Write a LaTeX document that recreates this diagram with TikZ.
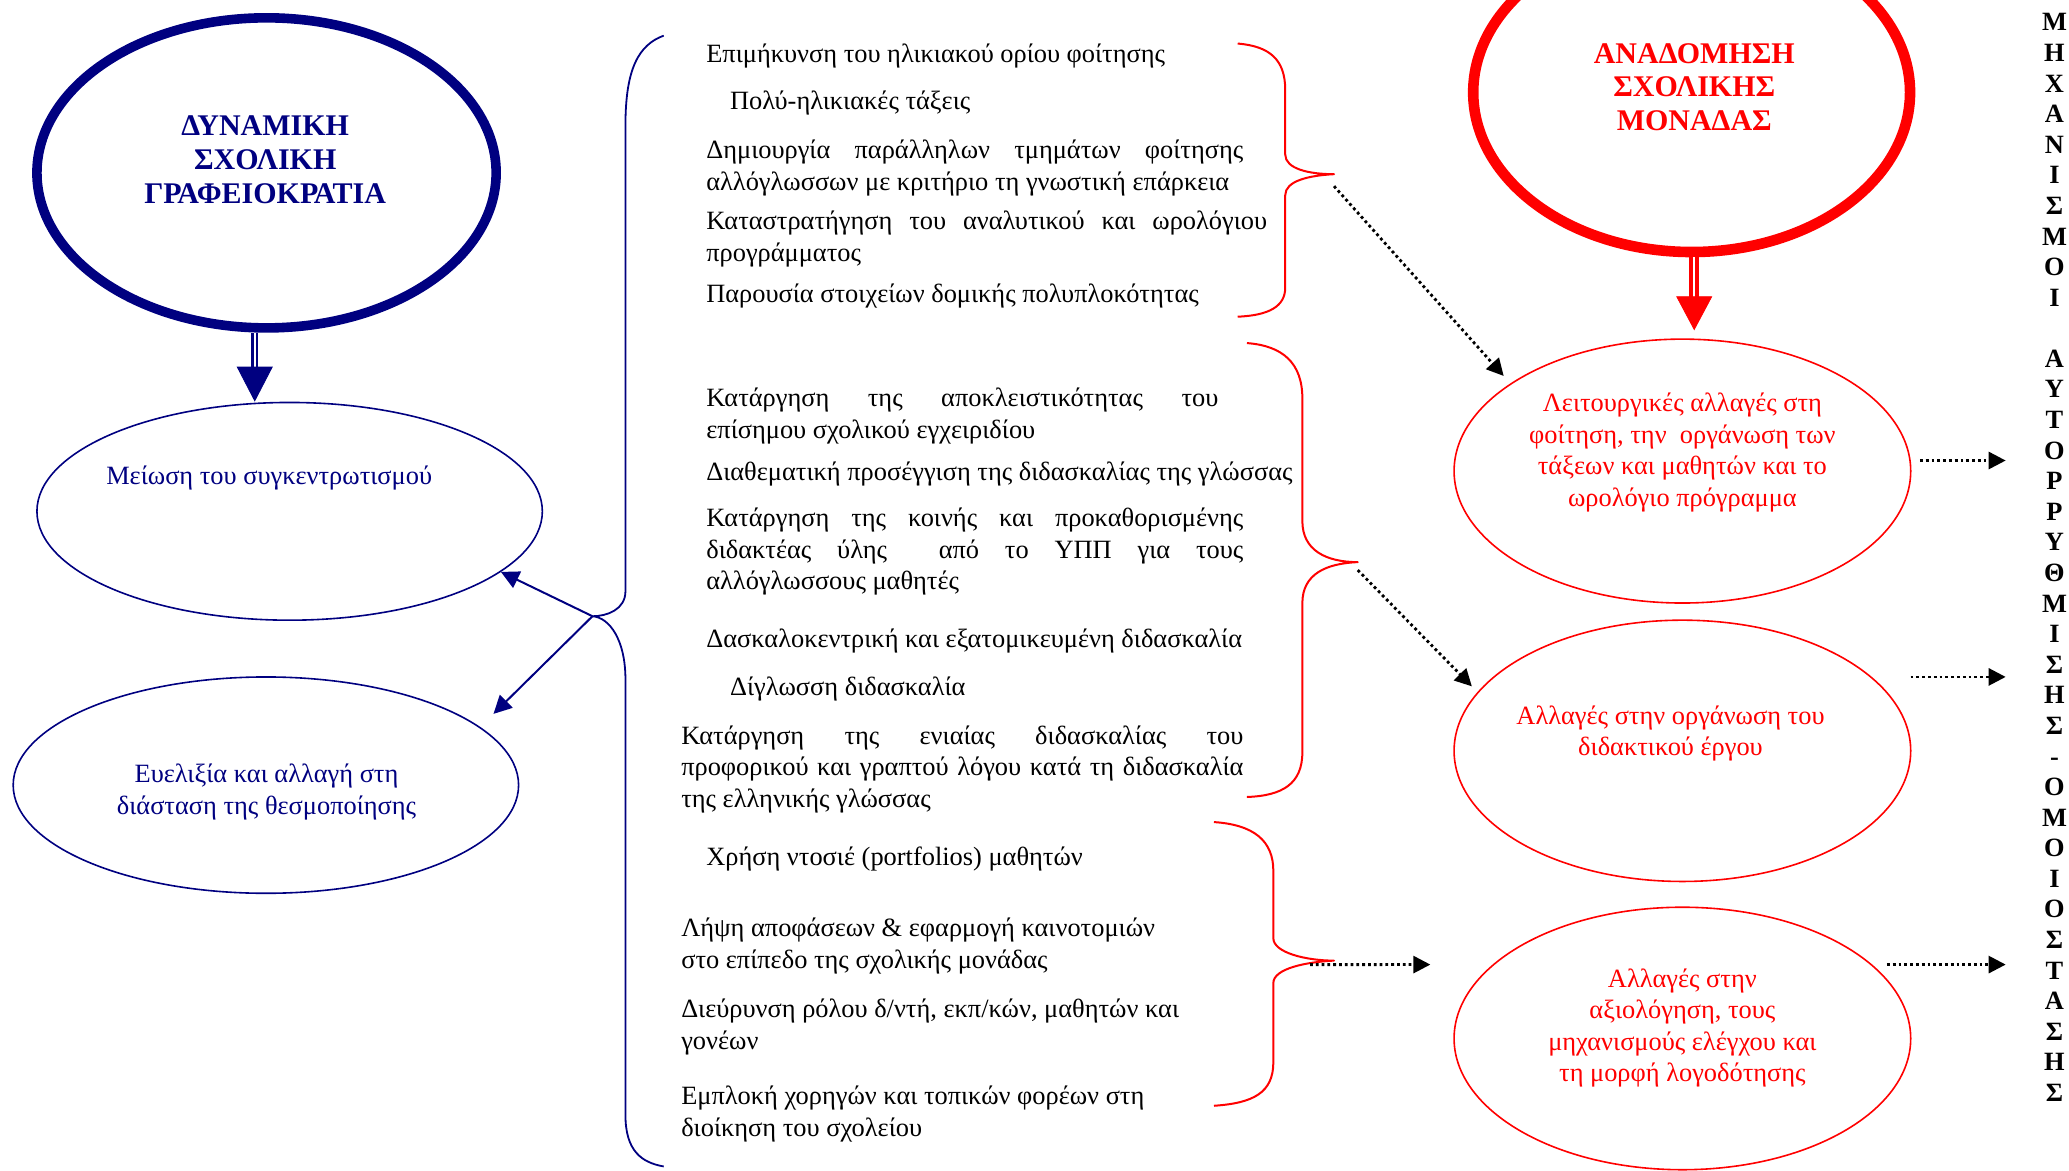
\documentclass[tikz,border=0pt]{standalone}
\usepackage{fontspec}
\setmainfont{Liberation Serif}
\usetikzlibrary{shapes.geometric, arrows.meta, positioning}
\definecolor{navyblue}{RGB}{0,0,128}
\definecolor{brightred}{RGB}{255,0,0}
\newcommand{\bodyfont}{\fontsize{13.2}{15.8}\selectfont}
\newcommand{\headfont}{\fontsize{15}{16.8}\selectfont\bfseries}
\newcommand{\fullline}[2]{\makebox[#1][s]{#2}}

\begin{document}
\begin{tikzpicture}[x=0.66pt, y=-0.66pt,
  bigoval/.style = {draw, ellipse, line width=4.8pt, inner sep=0pt},
  oval/.style = {draw, ellipse, line width=0.8pt, inner sep=0pt},
  headtext/.style = {font=\headfont, align=center, inner sep=0pt},
  txt/.style = {font=\bodyfont, align=center, inner sep=0pt},
  item/.style = {font=\bodyfont, align=left, anchor=base west, inner sep=0pt},
  brace/.style = {line width=1pt, line join=round},
  dotarrow/.style = {line width=1.4pt, dash pattern=on 1.4pt off 1.5pt, -{Triangle[width=8.5pt,length=8.5pt]}},
  shaft/.style = {line width=1.2pt, double=white, double distance=0.9pt}]
  \useasboundingbox (0,0) rectangle (1568,887);

  % left column
  \node[bigoval, navyblue, minimum width=229.7pt, minimum height=155.1pt] (dyn) at (202,131) {};
  \node[headtext, navyblue] (dyn-txt) at (201,121) {ΔΥΝΑΜΙΚΗ\\ΣΧΟΛΙΚΗ\\ΓΡΑΦΕΙΟΚΡΑΤΙΑ};
  \node[oval, navyblue, minimum width=252.8pt, minimum height=108.9pt] (meiosi) at (219.5,387.5) {};
  \node[txt, navyblue] (meiosi-txt) at (204,362) {Μείωση του συγκεντρωτισμού};
  \node[oval, navyblue, minimum width=252.8pt, minimum height=108.2pt] (evel) at (201.5,595) {};
  \node[txt, navyblue] (evel-txt) at (202,600) {Ευελιξία και αλλαγή στη\\διάσταση της θεσμοποίησης};
  \draw[shaft, navyblue] ([xshift=-5.9pt]dyn.south) -- ++(0,26) coordinate (dyn-head);
  \draw[navyblue, -{Triangle[width=18pt,length=17.5pt]}] (dyn-head) -- (dyn-head |- meiosi.north);

  % blue brace
  \coordinate (blue-tip) at (449,467);
  \coordinate (evel-in) at (374,541);
  \draw[brace, navyblue, line width=0.9pt] (503,27) .. controls (484,34) and (474,52) .. (474,95)
    -- (474,448) .. controls (474,462) and (460,467) .. (blue-tip)
    .. controls (462,468) and (474,485) .. (474,515) -- (474,845)
    .. controls (474,872) and (486,881) .. (503,884);
  \draw[navyblue, line width=1pt, -{Triangle[width=9pt,length=9pt]}] (blue-tip) -- (meiosi.-16.5);
  \draw[navyblue, line width=1pt, -{Triangle[width=9pt,length=9pt]}] (blue-tip) -- (evel-in);

  % middle column
  \node[item] (i1) at (535,47) {Επιμήκυνση του ηλικιακού ορίου φοίτησης};
  \node[item] (i2) at (553,83) {Πολύ-ηλικιακές τάξεις};
  \node[item] (i3) at (535,144) {\fullline{268.6pt}{Δημιουργία παράλληλων τμημάτων φοίτησης}\\αλλόγλωσσων με κριτήριο τη γνωστική επάρκεια};
  \node[item] (i4) at (535,198) {\fullline{280.5pt}{Καταστρατήγηση του αναλυτικού και ωρολόγιου}\\προγράμματος};
  \node[item] (i5) at (535,229) {Παρουσία στοιχείων δομικής πολυπλοκότητας};
  \node[item] (i6) at (535,332) {\fullline{256.1pt}{Κατάργηση της αποκλειστικότητας του}\\επίσημου σχολικού εγχειριδίου};
  \node[item] (i7) at (535,364) {Διαθεματική προσέγγιση της διδασκαλίας της γλώσσας};
  \node[item] (i8) at (535,447) {\fullline{268.6pt}{Κατάργηση της κοινής και προκαθορισμένης}\\\fullline{268.6pt}{διδακτέας ύλης \ από το ΥΠΠ για τους}\\αλλόγλωσσους μαθητές};
  \node[item] (i9) at (535,491) {Δασκαλοκεντρική και εξατομικευμένη διδασκαλία};
  \node[item] (i10) at (553,527) {Δίγλωσση διδασκαλία};
  \node[item] (i11) at (516,612) {\fullline{281.2pt}{Κατάργηση της ενιαίας διδασκαλίας του}\\\fullline{281.2pt}{προφορικού και γραπτού λόγου κατά τη διδασκαλία}\\της ελληνικής γλώσσας};
  \node[item] (i12) at (535,656) {Χρήση ντοσιέ (portfolios) μαθητών};
  \node[item] (i13) at (516,734) {Λήψη αποφάσεων \& εφαρμογή καινοτομιών\\στο επίπεδο της σχολικής μονάδας};
  \node[item] (i14) at (516,795) {Διεύρυνση ρόλου δ/ντή, εκπ/κών, μαθητών και\\γονέων};
  \node[item] (i15) at (516,861) {Εμπλοκή χορηγών και τοπικών φορέων στη\\διοίκηση του σχολείου};

  % red braces
  \coordinate (red-tip1) at (1011,132);
  \coordinate (red-tip2) at (1029,426);
  \coordinate (red-tip3) at (1011,728);
  \draw[brace, brightred] (938,33) .. controls (962,35) and (974,45) .. (974,68)
    -- (974,117) .. controls (974,128) and (992,132) .. (red-tip1)
    .. controls (992,133) and (974,137) .. (974,148) -- (974,218)
    .. controls (974,232) and (962,239) .. (938,240);
  \draw[brace, brightred] (945,260) .. controls (972,262) and (987,275) .. (987,302)
    -- (987,395) .. controls (987,417) and (1005,426) .. (red-tip2)
    .. controls (1005,427) and (987,435) .. (987,457) -- (987,570)
    .. controls (987,594) and (972,603) .. (945,604);
  \draw[brace, brightred] (920,623) .. controls (950,625) and (965,637) .. (965,660)
    -- (965,711) .. controls (965,722) and (990,728) .. (red-tip3)
    .. controls (990,729) and (965,734) .. (965,745) -- (965,805)
    .. controls (965,828) and (950,836) .. (920,838);

  % right column
  \node[bigoval, brightred, line width=5.3pt, minimum width=218.5pt, minimum height=159.7pt] (anad) at (1282,70) {};
  \node[headtext, brightred] (anad-txt) at (1284,66) {ΑΝΑΔΟΜΗΣΗ\\ΣΧΟΛΙΚΗΣ\\ΜΟΝΑΔΑΣ};
  \node[oval, brightred, minimum width=228.4pt, minimum height=132pt] (leit) at (1275,357) {};
  \node[txt, brightred] (leit-txt) at (1275,343) {Λειτουργικές αλλαγές στη\\φοίτηση, την \ οργάνωση των\\τάξεων και μαθητών και το\\ωρολόγιο πρόγραμμα};
  \node[oval, brightred, minimum width=228.4pt, minimum height=130.7pt] (org) at (1275,569) {};
  \node[txt, brightred] (org-txt) at (1266,556) {Αλλαγές στην οργάνωση του\\διδακτικού έργου};
  \node[oval, brightred, minimum width=228.4pt, minimum height=131.3pt] (axiol) at (1275,787) {};
  \node[txt, brightred] (axiol-txt) at (1275,779) {Αλλαγές στην\\αξιολόγηση, τους\\μηχανισμούς ελέγχου και\\τη μορφή λογοδότησης};
  \draw[shaft, brightred, line width=2pt, double distance=1.2pt] ([xshift=1.3pt]anad.south) -- ++(0,30) coordinate (anad-head);
  \draw[brightred, shorten >=4pt, -{Triangle[width=18pt,length=17pt]}] (anad-head) -- (anad-head |- leit.north);

  % dotted connectors
  \coordinate (axiol-in) at (1084,731);
  \draw[dotarrow, shorten >=5pt] ([yshift=-6pt]red-tip1) -- (leit.153);
  \draw[dotarrow, shorten >=4pt] ([yshift=-4pt]red-tip2) -- (org.164);
  \draw[dotarrow] ([xshift=-12pt,yshift=-2pt]red-tip3) -- (axiol-in);
  \coordinate (leit-out) at (1455,349);
  \coordinate (org-out) at (1448,513);
  \coordinate (axiol-out) at (1430,731);
  \draw[dotarrow] (leit-out) -- ++(65,0);
  \draw[dotarrow] (org-out) -- ++(72,0);
  \draw[dotarrow] (axiol-out) -- ++(90,0);

  % vertical label
  \node[font=\fontsize{13.2}{15.3}\selectfont\bfseries, align=center, anchor=north, inner sep=0pt] (mech) at (1557,10)
    {Μ\\Η\\Χ\\Α\\Ν\\Ι\\Σ\\Μ\\Ο\\Ι\\[15.3pt]Α\\Υ\\Τ\\Ο\\Ρ\\Ρ\\Υ\\Θ\\Μ\\Ι\\Σ\\Η\\Σ\\-\\Ο\\Μ\\Ο\\Ι\\Ο\\Σ\\Τ\\Α\\Σ\\Η\\Σ};
\end{tikzpicture}
\end{document}
